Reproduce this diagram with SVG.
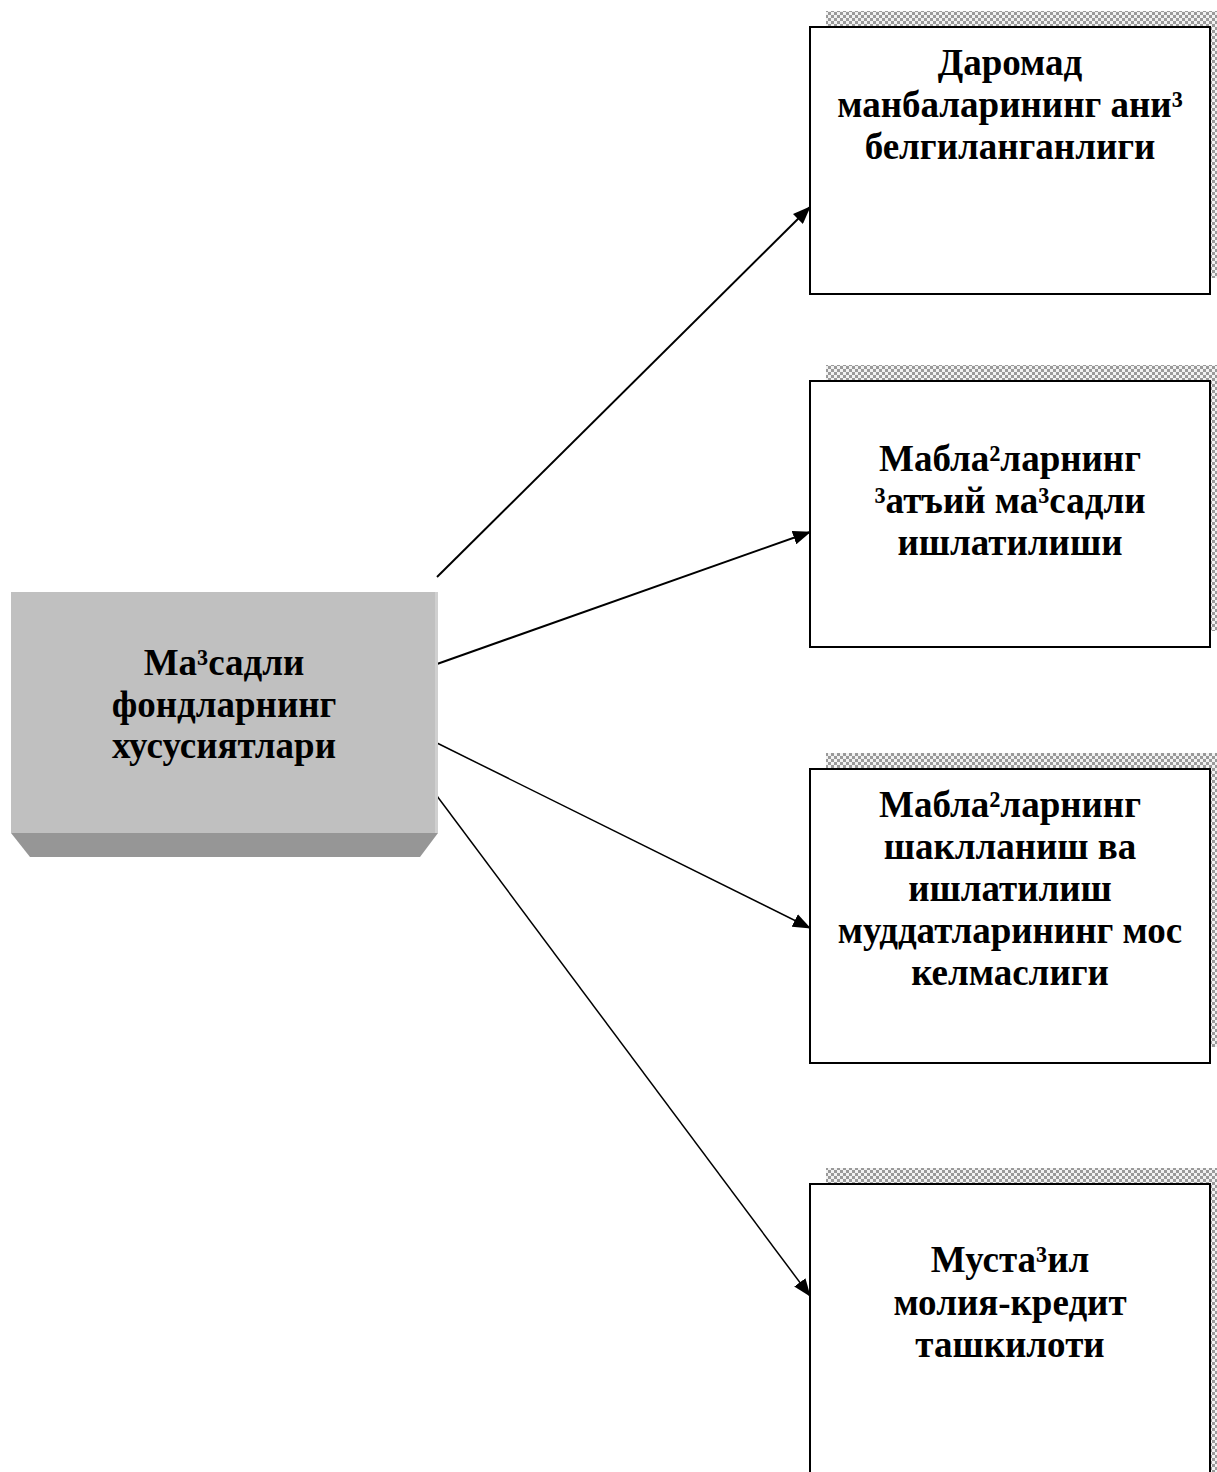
<svg xmlns="http://www.w3.org/2000/svg" width="1217" height="1472" viewBox="0 0 1217 1472">
<style>
.t{font-family:"Liberation Serif","Times New Roman",serif;font-weight:bold;font-size:37px;fill:#000;text-anchor:middle}
.box{fill:#fff;stroke:#000;stroke-width:2}
.sh{fill:url(#chk)}
.c{stroke:#000;fill:none}
</style>
<defs>
<pattern id="chk" width="6" height="6" patternUnits="userSpaceOnUse">
<rect width="6" height="6" fill="#f2f2f2"/>
<rect width="3" height="3" fill="#9a9a9a"/>
<rect x="3" y="3" width="3" height="3" fill="#9a9a9a"/>
</pattern>
<marker id="ah" markerWidth="18" markerHeight="14" refX="17" refY="7" orient="auto" markerUnits="userSpaceOnUse">
<path d="M0,0 L18,7 L0,14 Z" fill="#000"/>
</marker>
</defs>
<rect width="1217" height="1472" fill="#fff"/>
<g id="connectors">
<line class="c" stroke-width="2" x1="437" y1="577" x2="810" y2="207" marker-end="url(#ah)"/>
<line class="c" stroke-width="2" x1="437" y1="664" x2="810" y2="532" marker-end="url(#ah)"/>
<line class="c" stroke-width="1.5" x1="437" y1="743" x2="810" y2="928" marker-end="url(#ah)"/>
<line class="c" stroke-width="1.5" x1="437" y1="796" x2="810" y2="1296" marker-end="url(#ah)"/>
</g>
<g id="main">
<polygon points="11,833 438,833 420,857 30,857" fill="#969696"/>
<rect x="11" y="592" width="427" height="241" fill="#c0c0c0"/>
<rect x="435" y="592" width="3" height="241" fill="#d0d0d0"/>
<text class="t" x="224" y="675">Ма³садли</text>
<text class="t" x="224" y="717">фондларнинг</text>
<text class="t" x="224" y="758">хусусиятлари</text>
</g>
<g id="n1">
<rect class="sh" x="826" y="11" width="400" height="267"/>
<rect class="box" x="810" y="27" width="400" height="267"/>
<text class="t" x="1010" y="75">Даромад</text>
<text class="t" x="1010" y="117">манбаларининг ани³</text>
<text class="t" x="1010" y="159">белгиланганлиги</text>
</g>
<g id="n2">
<rect class="sh" x="826" y="365" width="400" height="266"/>
<rect class="box" x="810" y="381" width="400" height="266"/>
<text class="t" x="1010" y="471">Мабла²ларнинг</text>
<text class="t" x="1010" y="513">³атъий ма³садли</text>
<text class="t" x="1010" y="555">ишлатилиши</text>
</g>
<g id="n3">
<rect class="sh" x="826" y="753" width="400" height="294"/>
<rect class="box" x="810" y="769" width="400" height="294"/>
<text class="t" x="1010" y="817">Мабла²ларнинг</text>
<text class="t" x="1010" y="859">шаклланиш ва</text>
<text class="t" x="1010" y="901">ишлатилиш</text>
<text class="t" x="1010" y="943">муддатларининг мос</text>
<text class="t" x="1010" y="985">келмаслиги</text>
</g>
<g id="n4">
<rect class="sh" x="826" y="1168" width="400" height="320"/>
<rect class="box" x="810" y="1184" width="400" height="320"/>
<text class="t" x="1010" y="1272">Муста³ил</text>
<text class="t" x="1010" y="1315">молия-кредит</text>
<text class="t" x="1010" y="1357">ташкилоти</text>
</g>
</svg>
